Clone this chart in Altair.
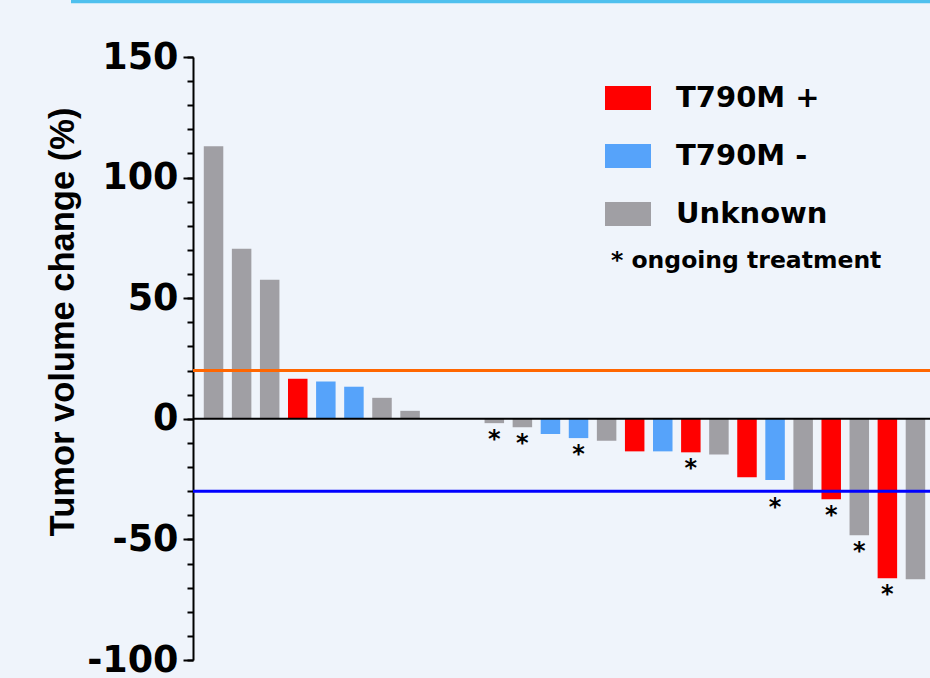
import altair as alt
import pandas as pd

# Waterfall of best tumour volume change per patient
patient = list(range(1, 27))
change = [113, 70.5, 57.7, 16.6, 15.5, 13.3, 8.7, 3.3, 0, 0,
          -1.8, -3.5, -6.3, -8.0, -9.1, -13.5, -13.5, -13.9, -14.8, -24.2,
          -25.4, -29.5, -33.4, -48.3, -66.1, -66.5]
status = ["Unknown", "Unknown", "Unknown", "T790M +", "T790M -", "T790M -", "Unknown", "Unknown",
          "Unknown", "Unknown", "Unknown", "Unknown", "T790M -", "T790M -", "Unknown", "T790M +",
          "T790M -", "T790M +", "Unknown", "T790M +", "T790M -", "Unknown", "T790M +", "Unknown",
          "T790M +", "Unknown"]
ongoing = [False] * 10 + [True, True, False, True, False, False, False, True,
                          False, False, True, False, True, True, True, False]

categories = ["T790M +", "T790M -", "Unknown"]
cat_colors = ["#FF0000", "#56A3FA", "#A09FA4"]

progression_level = 20
response_level = -30

df = pd.DataFrame({"patient": patient, "change": change, "status": status, "ongoing": ongoing})

W, H = 737, 603
BG = "#EFF4FB"

xs = alt.Scale(domain=[0.4466, 26.34], nice=False, zero=False)
ys = alt.Scale(domain=[-100, 150], nice=False)

major_axis = alt.Axis(
    orient="left", values=[-100, -50, 0, 50, 100, 150], grid=False,
    labelExpr="toString(datum.value)",
    tickSize=10, tickWidth=2, tickColor="black",
    domainColor="black", domainWidth=2,
    labelFont="DejaVu Sans", labelFontWeight="bold", labelFontSize=36.5,
    labelColor="black", labelPadding=5, labelFlush=False, labelOverlap=False,
    titleFont="Liberation Sans", titleFontWeight="bold", titleFontSize=34.5,
    titleColor="black", titleAngle=270, titleAlign="center",
    titleBaseline="alphabetic", titleX=-120, titleY=264.5,
)
minor_axis = alt.Axis(
    orient="left", values=list(range(-100, 151, 10)), grid=False,
    tickSize=6, tickWidth=2, tickColor="black", labels=False, domain=False,
)

bars = alt.Chart(df).mark_bar(size=19.5, clip=True).encode(
    x=alt.X("patient:Q", scale=xs, axis=None),
    y=alt.Y("change:Q", scale=ys, axis=major_axis, title="Tumor volume change (%)"),
    color=alt.Color(
        "status:N",
        scale=alt.Scale(domain=categories, range=cat_colors),
        legend=alt.Legend(
            orient="none", legendX=412, legendY=18, title=None, padding=0,
            symbolType="M-1,-0.52H1V0.52H-1Z", symbolSize=2116,
            symbolStrokeWidth=0, symbolOpacity=1,
            labelFont="DejaVu Sans", labelFontWeight="bold", labelFontSize=29,
            labelColor="black", labelOffset=25, labelLimit=0, rowPadding=20,
        ),
    ),
)

zero_df = pd.DataFrame({"level": [0]})
zero_line = alt.Chart(zero_df).mark_rule(color="black", strokeWidth=2).encode(
    y=alt.Y("level:Q", scale=ys, axis=minor_axis, title=None)
)

pd_line = alt.Chart(pd.DataFrame({"level": [progression_level]})).mark_rule(
    color="#FF6600", strokeWidth=3
).encode(y=alt.Y("level:Q", scale=ys, axis=None))

pr_line = alt.Chart(pd.DataFrame({"level": [response_level]})).mark_rule(
    color="#0000FF", strokeWidth=3
).encode(y=alt.Y("level:Q", scale=ys, axis=None))

# asterisks below bars of patients still on treatment, kept clear of the -30% line
stars = alt.Chart(df).transform_filter("datum.ongoing").transform_calculate(
    anchor=f"abs(datum.change - ({response_level})) < 6 ? min(datum.change, {response_level}) : datum.change"
).mark_text(
    text="*", font="DejaVu Sans", fontWeight="bold", fontSize=24,
    baseline="alphabetic", align="center", dy=23.5, color="black",
).encode(
    x=alt.X("patient:Q", scale=xs, axis=None),
    y=alt.Y("anchor:Q", scale=ys, axis=None),
)

note = alt.Chart(pd.DataFrame({"note": ["* ongoing treatment"]})).mark_text(
    font="DejaVu Sans", fontWeight="bold", fontSize=23.5, color="black",
    align="left", baseline="alphabetic",
).encode(x=alt.value(418), y=alt.value(211), text="note:N")

header = alt.Chart(pd.DataFrame({"band": [1]})).mark_rule(
    color="#4FC0EE", strokeWidth=3.5
).encode(x=alt.value(-122), x2=alt.value(W), y=alt.value(-55.5))

chart = alt.layer(
    bars, zero_line, pd_line, pr_line, stars, note, header
).resolve_axis(y="independent").resolve_scale(y="shared").properties(
    width=W, height=H,
    autosize=alt.AutoSizeParams(type="none"),
    padding={"left": 193, "top": 57, "right": 0, "bottom": 18},
    background=BG,
).configure_view(stroke=None)

chart.save("out.html", embed_options={"renderer": "svg", "actions": False})
